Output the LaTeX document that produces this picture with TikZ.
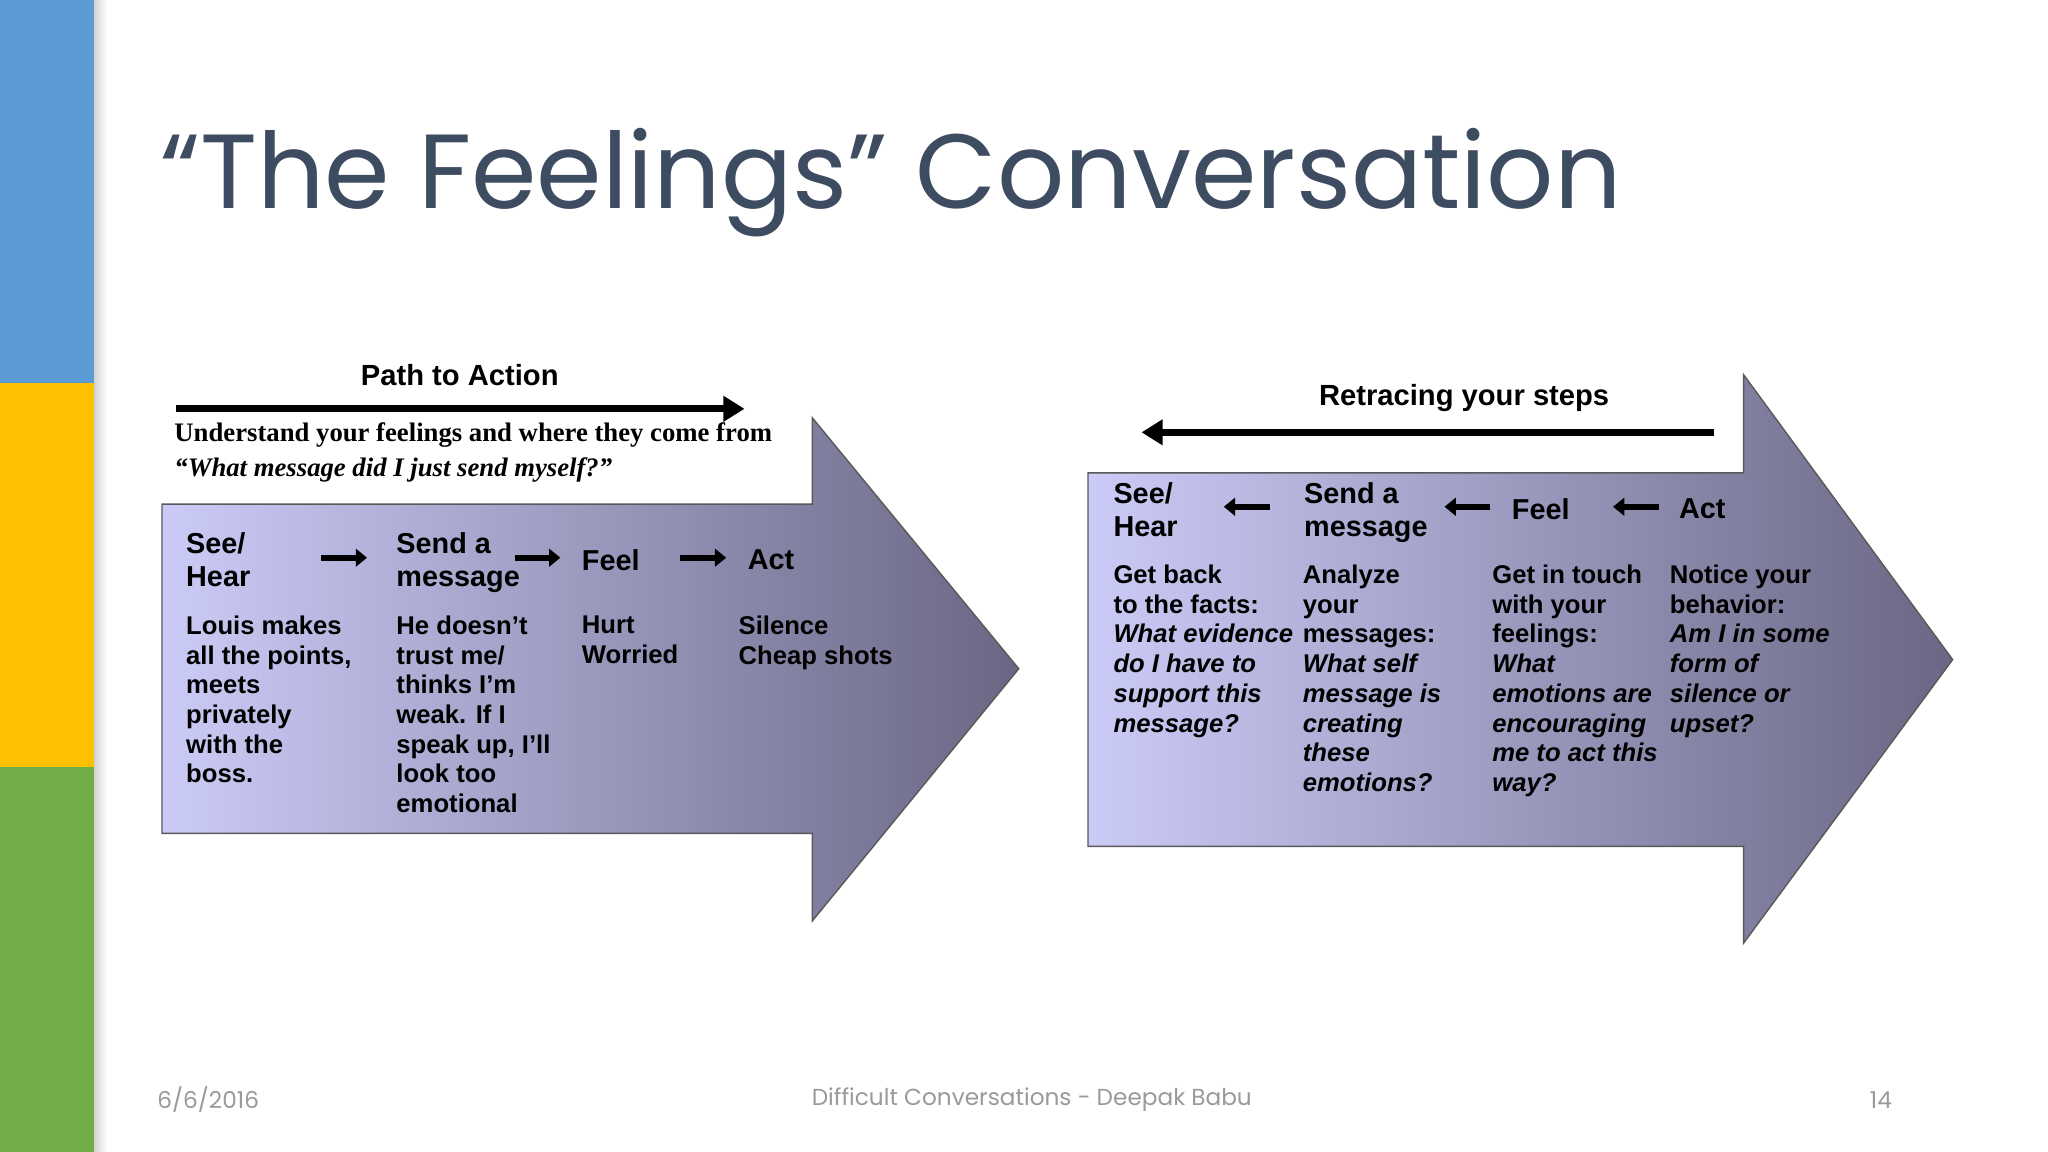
\documentclass[tikz,border=0pt]{standalone}
\usepackage{fontspec}
\setmainfont{Liberation Sans}
\newfontfamily\titlefont{Poppins}
\newfontfamily\serifb{Liberation Serif}
\usetikzlibrary{arrows.meta}
\definecolor{barblue}{HTML}{5B9BD5}
\definecolor{baryellow}{HTML}{FFC000}
\definecolor{bargreen}{HTML}{70AD47}
\definecolor{titlecol}{HTML}{3E4C61}
\definecolor{lav}{HTML}{CBCBF7}
\definecolor{darkp}{HTML}{6A6784}
\definecolor{footgray}{HTML}{9A9A9A}
\tikzset{
  body/.style={anchor=north west,inner sep=0pt,align=left,font=\fontsize{7.3pt}{8.45pt}\selectfont\bfseries},
  head/.style={body},
  bigarrow/.style={draw=gray!70!black,line width=0.4pt,left color=lav,right color=darkp},
  smallarr/.style={-{Triangle[length=3.2pt,width=5pt]},line width=1.6pt},
  longarr/.style={-{Triangle[length=6pt,width=7pt]},line width=2pt},
}
\begin{document}
\begin{tikzpicture}[x=0.01306cm,y=-0.01306cm]
\useasboundingbox (0,0) rectangle (1568,882);
\fill[white] (0,0) rectangle (1568,882);
% side bars
\fill[barblue] (0,0) rectangle (72,293);
\fill[baryellow] (0,293) rectangle (72,587);
\fill[bargreen] (0,587) rectangle (72,882);
\shade[left color=gray!35,right color=white] (72,0) rectangle (82,882);
% title
\node[anchor=base west,inner sep=0pt,text=titlecol,font=\titlefont\fontsize{30pt}{36pt}\selectfont] (title) at (122,160) {“The Feelings” Conversation};
% left arrow
\path[bigarrow] (124,386) -- (622,386) -- (622,320) -- (780,512) -- (622,705) -- (622,638) -- (124,638) -- cycle;
\node[anchor=center,inner sep=0pt,font=\fontsize{8.3pt}{10pt}\selectfont\bfseries] (pta) at (352,287) {Path to Action};
\coordinate (pa1) at (135,313); \coordinate (pa2) at (570,313);
\draw[longarr] (pa1) -- (pa2);
\node[anchor=west,inner sep=0pt,font=\serifb\fontsize{7.6pt}{9pt}\selectfont\bfseries] (und) at (133,333) {Understand your feelings and where they come from};
\node[anchor=west,inner sep=0pt,font=\serifb\fontsize{7.6pt}{9pt}\selectfont\bfseries\itshape] (wm) at (133,360) {“What message did I just send myself?”};
\node[head,font=\fontsize{8.2pt}{9.4pt}\selectfont\bfseries] (lh1) at (142,407) {See/\\Hear};
\node[head,font=\fontsize{8.2pt}{9.4pt}\selectfont\bfseries] (lh2) at (303,407) {Send a\\message};
\node[head,font=\fontsize{8.2pt}{9.4pt}\selectfont\bfseries] (lh3) at (445,420) {Feel};
\node[head,font=\fontsize{8.2pt}{9.4pt}\selectfont\bfseries] (lh4) at (572,420) {Act};
\coordinate (la1) at (246,427); \coordinate (la2) at (281,427);
\coordinate (la3) at (394,427); \coordinate (la4) at (429,427);
\coordinate (la5) at (521,427); \coordinate (la6) at (556,427);
\draw[smallarr] (la1) -- (la2);
\draw[smallarr] (la3) -- (la4);
\draw[smallarr] (la5) -- (la6);
\node[body] (lb1) at (142,471) {Louis makes\\all the points,\\meets\\privately\\with the\\boss.};
\node[body] (lb2) at (303,471) {He doesn’t\\trust me/\\thinks I’m\\weak. If I\\speak up, I’ll\\look too\\emotional};
\node[body] (lb3) at (445,471) {Hurt\\Worried};
\node[body] (lb4) at (565,471) {Silence\\Cheap shots};
% right arrow
\path[bigarrow] (833,362) -- (1335,362) -- (1335,287) -- (1495,505) -- (1335,722) -- (1335,648) -- (833,648) -- cycle;
\node[anchor=center,inner sep=0pt,font=\fontsize{8.3pt}{10pt}\selectfont\bfseries] (rys) at (1121,305) {Retracing your steps};
\coordinate (ra1) at (1312,331); \coordinate (ra2) at (874,331);
\draw[longarr] (ra1) -- (ra2);
\node[head,font=\fontsize{8.2pt}{9.4pt}\selectfont\bfseries] (rh1) at (852,369) {See/\\Hear};
\node[head,font=\fontsize{8.2pt}{9.4pt}\selectfont\bfseries] (rh2) at (998,369) {Send a\\message};
\node[head,font=\fontsize{8.2pt}{9.4pt}\selectfont\bfseries] (rh3) at (1157,381) {Feel};
\node[head,font=\fontsize{8.2pt}{9.4pt}\selectfont\bfseries] (rh4) at (1285,381) {Act};
\coordinate (rb1) at (972,388); \coordinate (rb2) at (937,388);
\coordinate (rb3) at (1141,388); \coordinate (rb4) at (1106,388);
\coordinate (rb5) at (1270,388); \coordinate (rb6) at (1235,388);
\draw[smallarr] (rb1) -- (rb2);
\draw[smallarr] (rb3) -- (rb4);
\draw[smallarr] (rb5) -- (rb6);
\node[body] (rc1) at (852,432) {Get back\\to the facts:\\\itshape What evidence\\\itshape do I have to\\\itshape support this\\\itshape message?};
\node[body] (rc2) at (997,432) {Analyze\\your\\messages:\\\itshape What self\\\itshape message is\\\itshape creating\\\itshape these\\\itshape emotions?};
\node[body] (rc3) at (1142,432) {Get in touch\\with your\\feelings:\\\itshape What\\\itshape emotions are\\\itshape encouraging\\\itshape me to act this\\\itshape way?};
\node[body] (rc4) at (1278,432) {Notice your\\behavior:\\\itshape Am I in some\\\itshape form of\\\itshape silence or\\\itshape upset?};
% footer
\node[anchor=west,inner sep=0pt,text=footgray,font=\titlefont\fontsize{6.6pt}{8pt}\selectfont] (fd) at (120,842) {6/6/2016};
\node[anchor=center,inner sep=0pt,text=footgray,font=\titlefont\fontsize{6.6pt}{8pt}\selectfont] (fc) at (790,842) {Difficult Conversations - Deepak Babu};
\node[anchor=east,inner sep=0pt,text=footgray,font=\titlefont\fontsize{6.6pt}{8pt}\selectfont] (fn) at (1449,842) {14};
\end{tikzpicture}
\end{document}
